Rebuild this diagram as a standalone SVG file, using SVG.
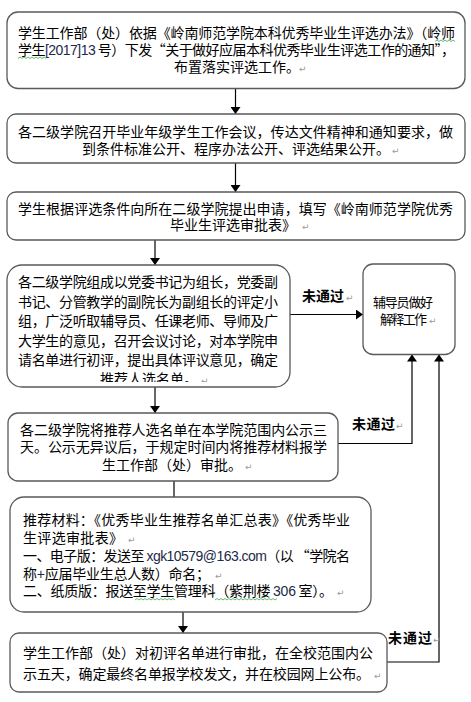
<svg xmlns="http://www.w3.org/2000/svg" width="471" height="702" viewBox="0 0 471 702">
<style>
.box{fill:#fff;stroke:#5a5a5a;stroke-width:1.3}
.t{font-family:"Noto Sans CJK SC","Noto Sans",sans-serif;font-size:14px;fill:#000}
.tr{font-family:"Noto Sans CJK SC","Noto Sans",sans-serif;font-size:13px;fill:#000}
.lbl{font-family:"Noto Sans CJK SC","Noto Sans",sans-serif;font-size:14px;font-weight:bold;fill:#000}
.pm{font-family:"DejaVu Sans",sans-serif;font-size:9px;fill:#9a9a9a}
.lat{font-family:"Liberation Sans",sans-serif;fill:#1c2a4a}
.con{fill:none;stroke:#000;stroke-width:1.2}
.wavy{fill:none;stroke:#3aa84a;stroke-width:0.8}
</style>
<defs>
<marker id="ah" viewBox="0 0 7 10" refX="7" refY="5" markerWidth="7" markerHeight="10" markerUnits="userSpaceOnUse" orient="auto">
<path d="M0 0 L7 5 L0 10 z" fill="#000"/>
</marker>
<clipPath id="c4"><rect x="7" y="265" width="283" height="117"/></clipPath>
</defs>

<g id="connectors">
<path class="con" d="M235.5 88.5 V114" marker-end="url(#ah)"/>
<path class="con" d="M235.5 163 V192" marker-end="url(#ah)"/>
<path class="con" d="M155 240 V265" marker-end="url(#ah)"/>
<path class="con" d="M290 314.5 H363" marker-end="url(#ah)"/>
<path class="con" d="M155 387 V413" marker-end="url(#ah)"/>
<path class="con" d="M174 481 V497"/>
<path class="con" d="M183 612 V633" marker-end="url(#ah)"/>
<path class="con" d="M338 443.5 H412 V354.5" marker-end="url(#ah)"/>
<path class="con" d="M387 662 H439 V354.5" marker-end="url(#ah)"/>
<text class="lbl" x="302" y="301" textLength="42">未通过</text>
<text class="pm" x="346" y="301">↵</text>
<text class="lbl" x="352" y="428.5" textLength="43">未通过</text>
<text class="pm" x="396" y="428.5">↵</text>
<text class="lbl" x="388" y="643" textLength="44">未通过</text>
<text class="pm" x="433" y="643">↵</text>
</g>

<g id="n1">
<rect class="box" x="7" y="12" width="458" height="76.5" rx="11"/>
<text class="t" x="18" y="38" textLength="437">学生工作部（处）依据《岭南师范学院本科优秀毕业生评选办法》（岭师</text>
<text class="t" x="18" y="55" textLength="437">学生<tspan class="lat">[2017]13</tspan> 号）下发“关于做好应届本科优秀毕业生评选工作的通知”，</text>
<text class="t" x="174" y="72">布置落实评选工作。</text>
<text class="pm" x="299" y="72">↵</text>
<path class="wavy" d="M18 58.5 l2 -1.5 l2 1.5 l2 -1.5 l2 1.5 l2 -1.5 l2 1.5 l2 -1.5 l2 1.5 l2 -1.5 l2 1.5 l2 -1.5 l2 1.5 l2 -1.5 l2 1.5"/>
<path class="wavy" d="M435 41.5 l2 -1.5 l2 1.5 l2 -1.5 l2 1.5 l2 -1.5 l2 1.5 l2 -1.5 l2 1.5 l2 -1.5 l2 1.5"/>
</g>

<g id="n2">
<rect class="box" x="7" y="114" width="458" height="49" rx="9"/>
<text class="t" x="18" y="137" textLength="435">各二级学院召开毕业年级学生工作会议，传达文件精神和通知要求，做</text>
<text class="t" x="82" y="154">到条件标准公开、程序办法公开、评选结果公开。</text>
<text class="pm" x="392" y="154">↵</text>
</g>

<g id="n3">
<rect class="box" x="7" y="192" width="458" height="48" rx="9"/>
<text class="t" x="18" y="214" textLength="435">学生根据评选条件向所在二级学院提出申请，填写《岭南师范学院优秀</text>
<text class="t" x="170" y="230">毕业生评选审批表》</text>
<text class="pm" x="302" y="230">↵</text>
</g>

<g id="n4">
<rect class="box" x="7" y="265" width="283" height="122" rx="15"/>
<g clip-path="url(#c4)">
<text class="t" x="18" y="287" textLength="260">各二级学院组成以党委书记为组长，党委副</text>
<text class="t" x="18" y="306.5" textLength="260">书记、分管教学的副院长为副组长的评定小</text>
<text class="t" x="18" y="326" textLength="260">组，广泛听取辅导员、任课老师、导师及广</text>
<text class="t" x="18" y="345.5" textLength="260">大学生的意见，召开会议讨论，对本学院申</text>
<text class="t" x="18" y="365" textLength="260">请名单进行初评，提出具体评议意见，确定</text>
<text class="t" x="100" y="383.5">推荐人选名单。</text>
<text class="pm" x="201" y="383.5">↵</text>
</g>
</g>

<g id="n5">
<rect class="box" x="363" y="264" width="92" height="90.5" rx="10"/>
<text class="tr" x="373" y="307" textLength="60">辅导员做好</text>
<text class="tr" x="380" y="324" textLength="47">解释工作</text>
<text class="pm" x="429" y="324">↵</text>
</g>

<g id="n6">
<rect class="box" x="8" y="413" width="330" height="68" rx="10"/>
<text class="t" x="20" y="435" textLength="307">各二级学院将推荐人选名单在本学院范围内公示三</text>
<text class="t" x="20" y="451.5" textLength="307">天。公示无异议后，于规定时间内将推荐材料报学</text>
<text class="t" x="102" y="470">生工作部（处）审批。</text>
<text class="pm" x="245" y="470">↵</text>
</g>

<g id="n7">
<rect class="box" x="10" y="497" width="361" height="115" rx="14"/>
<text class="t" x="23" y="524.5" textLength="327">推荐材料：《优秀毕业生推荐名单汇总表》《优秀毕业</text>
<text class="t" x="23" y="542.5" textLength="100">生评选审批表》</text>
<text class="pm" x="128" y="542.5">↵</text>
<text class="t" x="23" y="561" textLength="327">一、电子版：发送至 <tspan class="lat">xgk10579@163.com</tspan>（以 “学院名</text>
<text class="t" x="23" y="579" textLength="187">称<tspan class="lat">+</tspan>应届毕业生总人数）命名；</text>
<text class="pm" x="215" y="579">↵</text>
<text class="t" x="23" y="596" textLength="310">二、纸质版：报送至学生管理科（紫荆楼 <tspan class="lat">306</tspan> 室）。</text>
<text class="pm" x="337" y="596">↵</text>
<path class="wavy" d="M135 600 l2 -1.5 l2 1.5 l2 -1.5 l2 1.5 l2 -1.5 l2 1.5 l2 -1.5 l2 1.5 l2 -1.5 l2 1.5 l2 -1.5 l2 1.5 l2 -1.5 l2 1.5 l2 -1.5 l2 1.5 l2 -1.5 l2 1.5 l2 -1.5 l2 1.5"/>
<path class="wavy" d="M215 600 l2 -1.5 l2 1.5 l2 -1.5 l2 1.5 l2 -1.5 l2 1.5 l2 -1.5 l2 1.5 l2 -1.5 l2 1.5 l2 -1.5 l2 1.5 l2 -1.5 l2 1.5 l2 -1.5 l2 1.5 l2 -1.5 l2 1.5 l2 -1.5 l2 1.5 l2 -1.5 l2 1.5 l2 -1.5 l2 1.5 l2 -1.5 l2 1.5 l2 -1.5 l2 1.5 l2 -1.5 l2 1.5 l2 -1.5"/>
</g>

<g id="n8">
<rect class="box" x="10" y="633" width="377" height="59" rx="9"/>
<text class="t" x="23" y="658" textLength="350">学生工作部（处）对初评名单进行审批，在全校范围内公</text>
<text class="t" x="23" y="679" textLength="347">示五天，确定最终名单报学校发文，并在校园网上公布。</text>
<text class="pm" x="374" y="679">↵</text>
</g>
</svg>
